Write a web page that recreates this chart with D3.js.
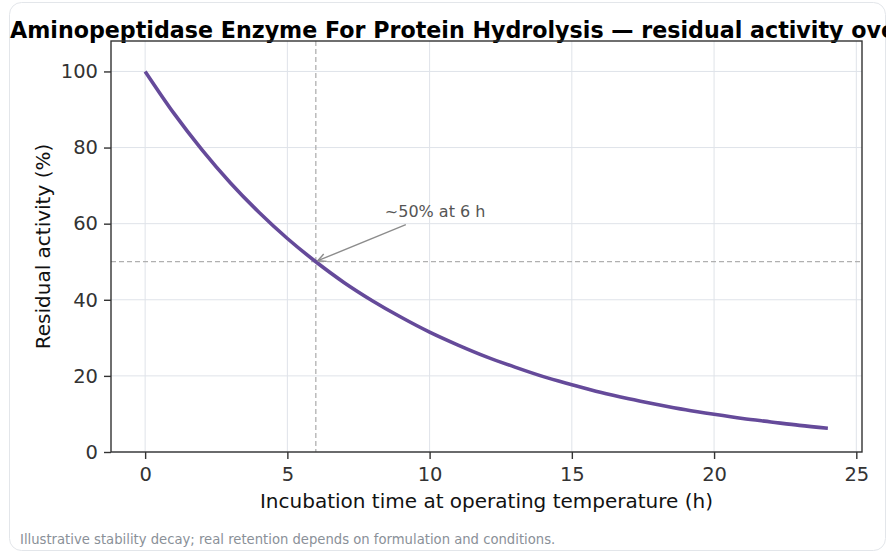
<!DOCTYPE html>
<html>
<head>
<meta charset="utf-8">
<script src="https://cdn.jsdelivr.net/npm/d3@7"></script>
<style>
  html, body { margin: 0; padding: 0; background: #fff; }
  svg { display: block; font-family: "DejaVu Sans", sans-serif; }
</style>
</head>
<body>
<svg id="canvas"></svg>
<script>
// Chart text.
var titleText = 'Aminopeptidase Enzyme For Protein Hydrolysis \u2014 residual activity over time';
var xLabel = 'Incubation time at operating temperature (h)';
var yLabel = 'Residual activity (%)';
var footText = 'Illustrative stability decay; real retention depends on formulation and conditions.';
var noteText = '~50% at 6 h';

// Incubation time (h) and residual activity (%).
var hours = [0, 1, 2, 3, 4, 5, 6, 7, 8, 9, 10, 11, 12, 13, 14, 15, 16, 17, 18, 19, 20, 21, 22, 23, 24];
var activity = [100, 89.1, 79.4, 70.7, 63.0, 56.1, 50.0, 44.5, 39.7, 35.4, 31.5, 28.1, 25.0,
                22.3, 19.8, 17.7, 15.7, 14.0, 12.5, 11.1, 9.9, 8.8, 7.9, 7.0, 6.25];

// Half-activity marker.
var markerHour = 6;
var markerLevel = 50;

// Tick values.
var xTicks = [0, 5, 10, 15, 20, 25];
var yTicks = [0, 20, 40, 60, 80, 100];

// Canvas settings.
var canvas = {
  dim: { w: 886, h: 552 },
  margin: { top: 41, right: 24, bottom: 100, left: 111 },
  colours: {
    line: '#654a9a',
    grid: '#dfe3e9',
    spine: '#333333',
    guide: '#b0b0b0',
    note: '#555555',
    arrow: '#8c8c8c',
    foot: '#8a9098',
    card: '#e3e6ea'
  }
};

var pw = canvas.dim.w - canvas.margin.left - canvas.margin.right;
var ph = canvas.dim.h - canvas.margin.top - canvas.margin.bottom;

var svg = d3.select('#canvas')
            .attr('width', canvas.dim.w)
            .attr('height', canvas.dim.h);

// Card outline.
svg.append('rect')
   .attr('x', 9.5).attr('y', 2.5)
   .attr('width', canvas.dim.w - 10).attr('height', canvas.dim.h - 4)
   .attr('rx', 12)
   .attr('fill', '#fff')
   .attr('stroke', canvas.colours.card);

// Title (runs past the right edge, as in the source figure).
svg.append('text')
   .attr('x', 10).attr('y', 38)
   .attr('font-size', 22.2).attr('font-weight', 'bold')
   .attr('fill', '#000')
   .text(titleText);

var g = svg.append('g')
           .attr('transform', 'translate(' + canvas.margin.left + ',' + canvas.margin.top + ')');

// Scales.
var x = d3.scaleLinear().domain([-1.2, 25.2]).range([0, pw]);
var y = d3.scaleLinear().domain([0, 108]).range([ph, 0]);

// Grid.
g.append('g').selectAll('line').data(xTicks).enter().append('line')
 .attr('x1', function(d) { return x(d); }).attr('x2', function(d) { return x(d); })
 .attr('y1', 0).attr('y2', ph)
 .attr('stroke', canvas.colours.grid).attr('stroke-width', 1);

g.append('g').selectAll('line').data(yTicks).enter().append('line')
 .attr('x1', 0).attr('x2', pw)
 .attr('y1', function(d) { return y(d); }).attr('y2', function(d) { return y(d); })
 .attr('stroke', canvas.colours.grid).attr('stroke-width', 1);

// Guide lines at the half-activity point.
g.append('line')
 .attr('x1', x(markerHour)).attr('x2', x(markerHour))
 .attr('y1', 0).attr('y2', ph)
 .attr('stroke', canvas.colours.guide).attr('stroke-width', 1.3)
 .attr('stroke-dasharray', '5,3');

g.append('line')
 .attr('x1', 0).attr('x2', pw)
 .attr('y1', y(markerLevel)).attr('y2', y(markerLevel))
 .attr('stroke', canvas.colours.guide).attr('stroke-width', 1.3)
 .attr('stroke-dasharray', '5,3');

// Decay curve.
var points = hours.map(function(h, i) { return [h, activity[i]]; });
var line = d3.line()
             .x(function(d) { return x(d[0]); })
             .y(function(d) { return y(d[1]); })
             .curve(d3.curveMonotoneX);

g.append('path')
 .datum(points)
 .attr('d', line)
 .attr('fill', 'none')
 .attr('stroke', canvas.colours.line)
 .attr('stroke-width', 3.6)
 .attr('stroke-linecap', 'butt');

// Annotation arrow.
var defs = svg.append('defs');
defs.append('marker')
    .attr('id', 'arrowhead')
    .attr('viewBox', '0 0 10 10')
    .attr('refX', 9).attr('refY', 5)
    .attr('markerWidth', 10).attr('markerHeight', 10)
    .attr('markerUnits', 'userSpaceOnUse')
    .attr('orient', 'auto')
    .append('path')
    .attr('d', 'M1,1 L9,5 L1,9')
    .attr('fill', 'none')
    .attr('stroke', canvas.colours.arrow)
    .attr('stroke-width', 1.4);

var noteX = x(markerHour) + 69;
var noteY = y(markerLevel) - 45;

g.append('line')
 .attr('x1', noteX + 21).attr('y1', noteY + 8)
 .attr('x2', x(markerHour) + 2).attr('y2', y(markerLevel) - 1)
 .attr('stroke', canvas.colours.arrow).attr('stroke-width', 1.4)
 .attr('marker-end', 'url(#arrowhead)');

g.append('text')
 .attr('x', noteX).attr('y', noteY)
 .attr('font-size', 16)
 .attr('fill', canvas.colours.note)
 .text(noteText);

// Axes.
var xAxis = g.append('g')
             .attr('transform', 'translate(0,' + ph + ')')
             .call(d3.axisBottom(x).tickValues(xTicks).tickSize(7).tickPadding(8));
var yAxis = g.append('g')
             .call(d3.axisLeft(y).tickValues(yTicks).tickSize(7).tickPadding(6));

[xAxis, yAxis].forEach(function(a) {
  a.select('.domain').remove();
  a.selectAll('line').attr('stroke', canvas.colours.spine).attr('stroke-width', 1.4);
  a.selectAll('text').attr('font-size', 19.5).attr('fill', '#333')
   .attr('font-family', '"DejaVu Sans", sans-serif');
});

// Frame.
g.append('rect')
 .attr('x', 0).attr('y', 0).attr('width', pw).attr('height', ph)
 .attr('fill', 'none')
 .attr('stroke', canvas.colours.spine).attr('stroke-width', 1.4);

// Axis labels.
g.append('text')
 .attr('x', pw / 2).attr('y', ph + 56)
 .attr('text-anchor', 'middle')
 .attr('font-size', 20)
 .attr('fill', '#111')
 .text(xLabel);

g.append('text')
 .attr('transform', 'translate(' + (-61) + ',' + (ph / 2) + ') rotate(-90)')
 .attr('text-anchor', 'middle')
 .attr('font-size', 20)
 .attr('fill', '#111')
 .text(yLabel);

// Footnote.
svg.append('text')
   .attr('x', 20).attr('y', 544)
   .attr('font-size', 13.2)
   .attr('fill', canvas.colours.foot)
   .text(footText);
</script>
</body>
</html>
